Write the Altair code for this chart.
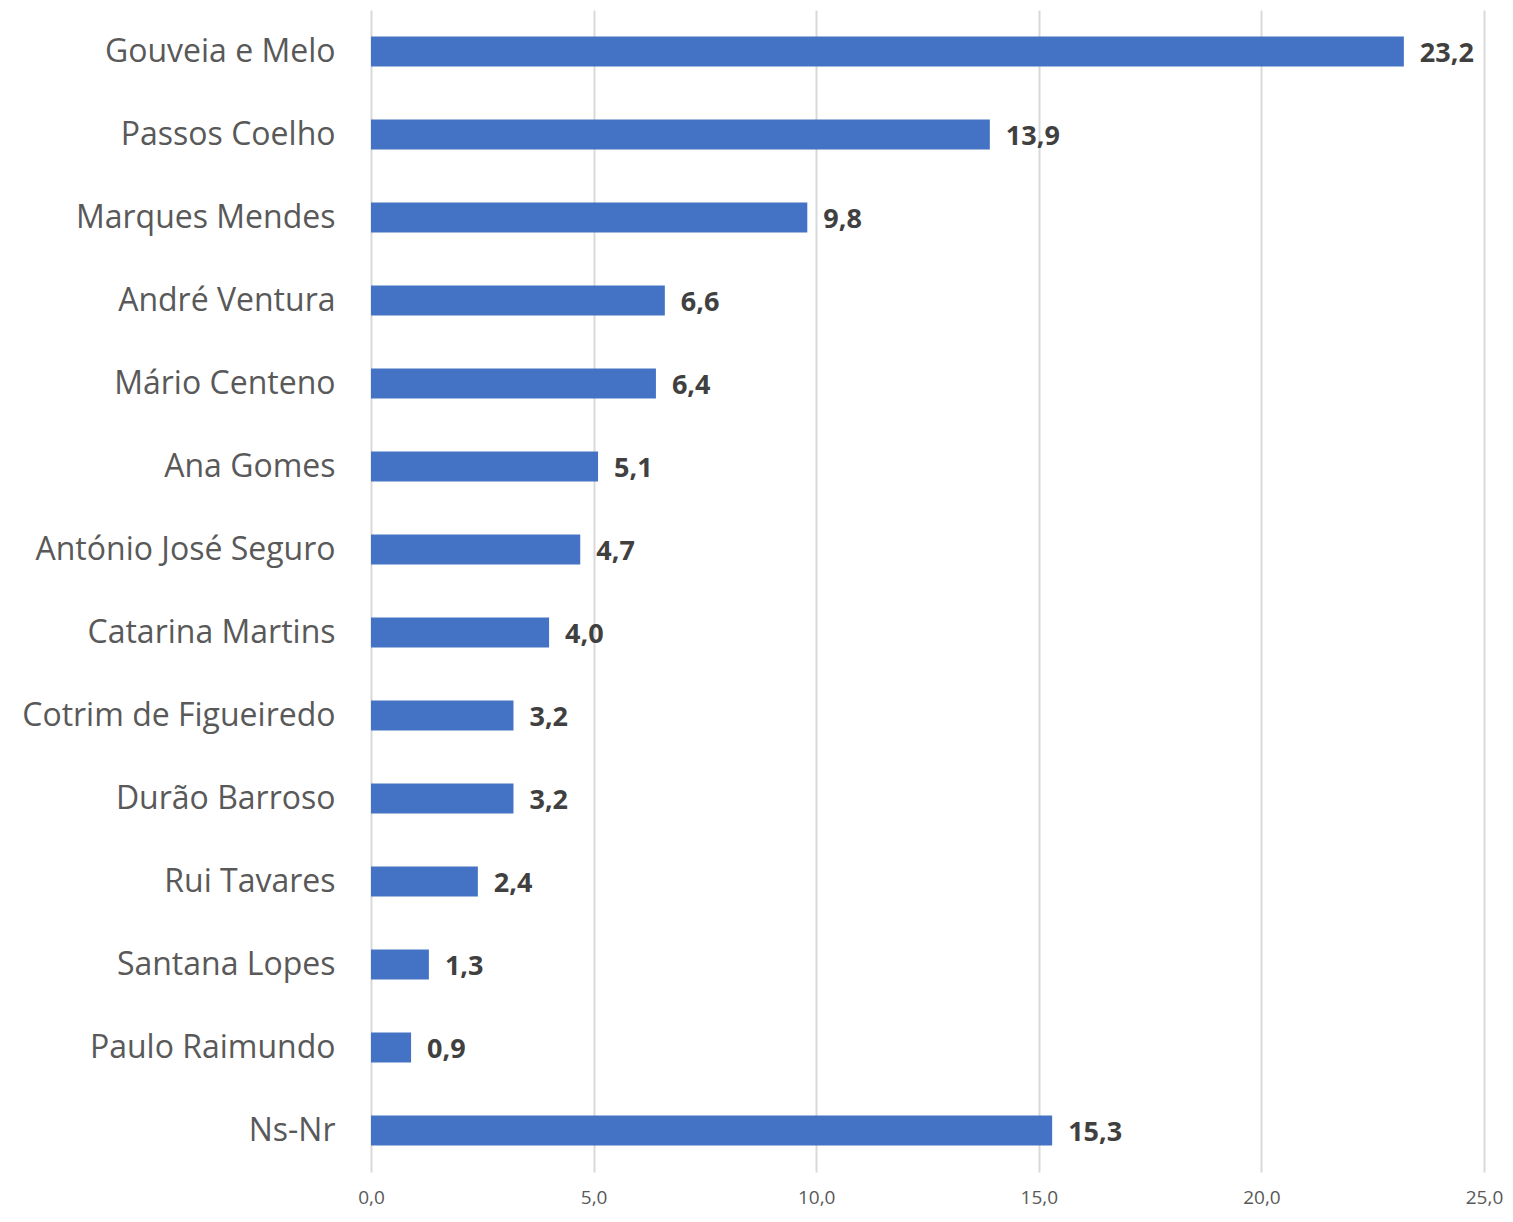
import altair as alt
import pandas as pd

names = ["Gouveia e Melo", "Passos Coelho", "Marques Mendes", "André Ventura",
         "Mário Centeno", "Ana Gomes", "António José Seguro", "Catarina Martins",
         "Cotrim de Figueiredo", "Durão Barroso", "Rui Tavares", "Santana Lopes",
         "Paulo Raimundo", "Ns-Nr"]
values = [23.2, 13.9, 9.8, 6.6, 6.4, 5.1, 4.7, 4.0, 3.2, 3.2, 2.4, 1.3, 0.9, 15.3]
labels = ["23,2", "13,9", "9,8", "6,6", "6,4", "5,1", "4,7", "4,0", "3,2", "3,2",
          "2,4", "1,3", "0,9", "15,3"]

df = pd.DataFrame({"nome": names, "valor": values, "rotulo": labels})

FONT = "Open Sans"

y = alt.Y("nome:N", sort=names, title=None,
          scale=alt.Scale(paddingInner=0.64, paddingOuter=0.32),
          axis=alt.Axis(labelFont=FONT, labelFontSize=32, labelColor="#595959",
                        labelPadding=36, ticks=False, domain=False,
                        minExtent=363, maxExtent=363, labelLimit=400))
x = alt.X("valor:Q", title=None,
          scale=alt.Scale(domain=[0, 25], nice=False),
          axis=alt.Axis(values=[0, 5, 10, 15, 20, 25], format=".1f",
                        labelExpr="replace(format(datum.value, '.1f'), '.', ',')",
                        labelFont=FONT, labelFontSize=19, labelColor="#595959",
                        labelPadding=16, ticks=False, domain=False,
                        labelFlush=False, labelOverlap=False,
                        gridColor="#d9d9d9", gridWidth=2))

bars = alt.Chart(df).mark_bar(color="#4472C4").encode(x=x, y=y)
text = alt.Chart(df).mark_text(align="left", baseline="middle", dx=16, dy=2,
                               font=FONT, fontSize=27, fontWeight="bold",
                               color="#404040").encode(
    x="valor:Q", y=alt.Y("nome:N", sort=names), text="rotulo:N")

chart = (bars + text).properties(
    width=1113, height=1162,
    padding={"left": 0, "top": 2, "right": 0, "bottom": 6}
).configure_view(stroke=None)

chart.save("out.html", embed_options={"renderer": "svg", "actions": False})
